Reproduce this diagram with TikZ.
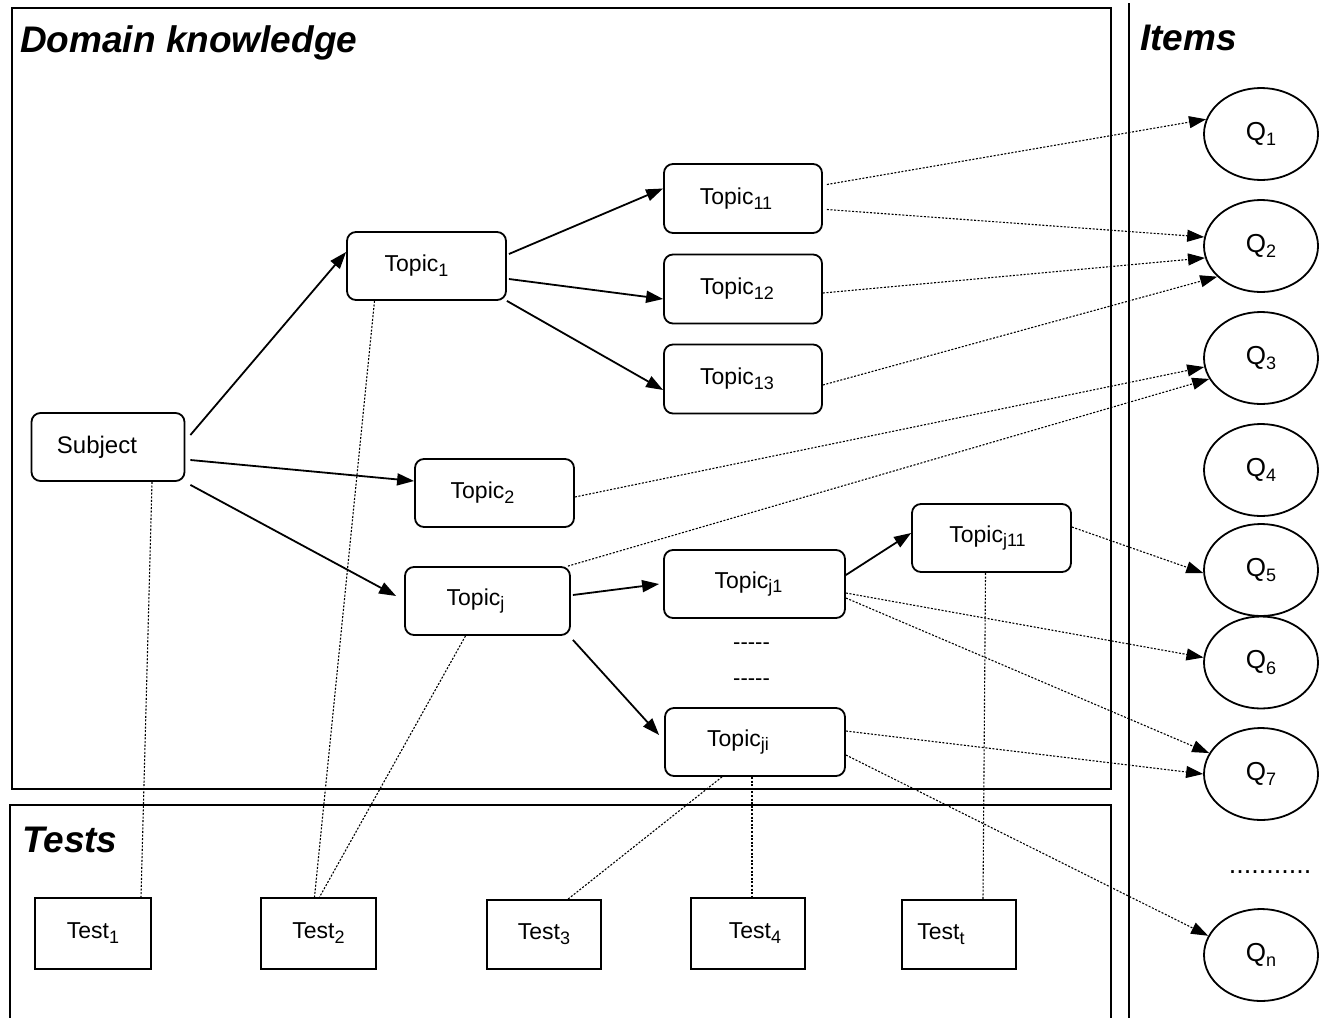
\documentclass[tikz,border=0pt]{standalone}
\usepackage{fontspec}
\setmainfont{Liberation Sans}
\usetikzlibrary{shapes.geometric,arrows.meta}
% small lowered index used in the labels
\newcommand\lowidx[1]{\raisebox{-0.4ex}{\fontsize{18}{18}\selectfont #1}}
% pad a label on the right so it sits left of the box centre
\newcommand\padright[2]{#2\hspace*{#1}}
\begin{document}
\begin{tikzpicture}[x=1pt,y=-1pt,
  frame/.style={line width=1.8pt},
  title/.style={inner sep=0pt, anchor=base west, font=\fontsize{37}{40}\selectfont\bfseries\itshape},
  topic/.style={draw, rounded corners=9pt, line width=1.8pt, minimum width=158pt,
                minimum height=68pt, inner sep=0pt, font=\fontsize{23}{24}\selectfont},
  testbox/.style={draw, line width=1.8pt, minimum width=115pt, minimum height=70pt,
                inner sep=0pt, font=\fontsize{23}{24}\selectfont},
  item/.style={draw, ellipse, line width=1.8pt, minimum width=114pt, minimum height=92pt,
                inner sep=0pt, font=\fontsize{26}{27}\selectfont},
  link/.style={line width=1.8pt, -{Triangle[length=17pt,width=12pt]}},
  tie/.style={dash pattern=on 2pt off 1.6pt, line width=1.1pt},
  tiearrow/.style={tie, -{Triangle[length=17pt,width=12pt]}},
  ellips/.style={inner sep=0pt, font=\fontsize{22}{24}\selectfont}
]
\useasboundingbox (0,0) rectangle (1332,1017);

% frames
\draw[frame] (12,8) rectangle (1111,789);
\draw[frame] (10,1030) -- (10,805) -- (1111,805) -- (1111,1030);
\draw[frame] (1129,3) -- (1129,1030);

\node[title] (dk) at (20,52) {Domain knowledge};
\node[title] (items) at (1140,50) {Items};
\node[title] (tests) at (22,852) {Tests};

% domain topics
\node[topic, minimum width=153pt, font=\fontsize{24}{24}\selectfont] (subj) at (108,447) {\padright{22pt}{Subject}};
\node[topic, minimum width=159pt] (t1) at (426.5,266) {\padright{20pt}{Topic\lowidx{1}}};
\node[topic, minimum width=159pt] (t2) at (494.5,493) {\padright{24pt}{Topic\lowidx{2}}};
\node[topic, minimum width=165pt] (tj) at (487.5,601) {\padright{24pt}{Topic\lowidx{j}}};
\node[topic, minimum height=69pt] (t11) at (743,198.5) {\padright{14pt}{Topic\lowidx{11}}};
\node[topic, minimum height=69pt] (t12) at (743,289) {\padright{12pt}{Topic\lowidx{12}}};
\node[topic, minimum height=69pt] (t13) at (743,379) {\padright{12pt}{Topic\lowidx{13}}};
\node[topic, minimum width=181pt] (tj1) at (754.5,584) {\padright{12pt}{Topic\lowidx{j1}}};
\node[topic, minimum width=159pt] (tj11) at (991.5,538) {\padright{8pt}{Topic\lowidx{j11}}};
\node[topic, minimum width=180pt] (tji) at (755,742) {\padright{34pt}{Topic\lowidx{ji}}};
\node[ellips] (dash1) at (751.5,646) {-{}-{}-{}-{}-};
\node[ellips] (dash2) at (751.5,682) {-{}-{}-{}-{}-};

% tests
\node[testbox, minimum width=116pt, minimum height=71pt] (test1) at (93,933.5) {Test\lowidx{1}};
\node[testbox, minimum height=71pt] (test2) at (318.5,933.5) {Test\lowidx{2}};
\node[testbox, minimum width=114pt, minimum height=69pt] (test3) at (544,934.5) {Test\lowidx{3}};
\node[testbox, minimum width=114pt, minimum height=71pt] (test4) at (748,933.5) {\hspace*{14pt}Test\lowidx{4}};
\node[testbox, minimum width=114pt, minimum height=69pt] (testt) at (959,934.5) {\padright{36pt}{Test\lowidx{t}}};

% items
\node[item] (q1) at (1261,134) {Q\lowidx{1}};
\node[item] (q2) at (1261,246) {Q\lowidx{2}};
\node[item] (q3) at (1261,358) {Q\lowidx{3}};
\node[item] (q4) at (1261,470) {Q\lowidx{4}};
\node[item] (q5) at (1261,570) {Q\lowidx{5}};
\node[item] (q6) at (1261,662.5) {Q\lowidx{6}};
\node[item] (q7) at (1261,774) {Q\lowidx{7}};
\node[inner sep=0pt, anchor=base, font=\fontsize{27}{28}\selectfont] (qdots) at (1270,873) {...........};
\node[item] (qn) at (1261,955) {Q\lowidx{n}};

% topic hierarchy
\draw[link] ([xshift=5pt,yshift=12pt]subj.east) -- ([yshift=14pt]t1.west);
\draw[link] ([xshift=5pt,yshift=-13pt]subj.east) -- ([yshift=12pt]t2.west);
\draw[link] ([xshift=5pt,yshift=-3pt]subj.south east) -- ([xshift=-8pt,yshift=5pt]tj.west);
\draw[link] ([xshift=2pt,yshift=12pt]t1.east) -- ([yshift=10pt]t11.west);
\draw[link] ([xshift=2pt,yshift=-13pt]t1.east) -- ([yshift=-10pt]t12.west);
\draw[link] (t1.south east) -- ([yshift=-11pt]t13.west);
\draw[link] ([xshift=2pt,yshift=6pt]tj.east) -- ([xshift=-4pt]tj1.west);
\draw[link] ([xshift=2pt,yshift=-4pt]tj.south east) -- ([xshift=-5pt,yshift=7pt]tji.west);
\draw[link] ([yshift=9pt]tj1.east) -- ([yshift=5pt]tj11.west);

% topics to items
\draw[tiearrow] ([xshift=4pt,yshift=14pt]t11.east) -- (q1.165);
\draw[tiearrow] ([xshift=4pt,yshift=-11pt]t11.east) -- (q2.171);
\draw[tiearrow] ([yshift=-4pt]t12.east) -- (q2.192);
\draw[tiearrow] ([yshift=-6pt]t13.east) -- (q2.215);
\draw[tiearrow] ([yshift=-4pt]t2.east) -- (q3.189);
\draw[tiearrow] ([xshift=-3pt]tj.north east) -- (q3.202);
\draw[tiearrow] ([yshift=11pt]tj11.east) -- (q5.183);
\draw[tiearrow] ([yshift=-9pt]tj1.east) -- (q6.175);
\draw[tiearrow] ([yshift=-14pt]tj1.east) -- (q7.158);
\draw[tiearrow] ([yshift=11pt]tji.east) -- (q7.180);
\draw[tiearrow] ([yshift=-13pt]tji.east) -- (qn.160);

% topics to tests
\draw[tie] ([xshift=44pt]subj.south) -- ([xshift=48pt]test1.north);
\draw[tie] ([xshift=-52pt]t1.south) -- ([xshift=-4pt]test2.north);
\draw[tie] ([xshift=-22pt]tj.south) -- ([xshift=1pt]test2.north);
\draw[tie] ([xshift=-33pt]tji.south) -- ([xshift=24pt]test3.north);
\draw[tie] ([xshift=-3pt]tji.south) -- ([xshift=4pt]test4.north);
\draw[tie] ([xshift=-6pt]tj11.south) -- ([xshift=24pt]testt.north);
\end{tikzpicture}
\end{document}
